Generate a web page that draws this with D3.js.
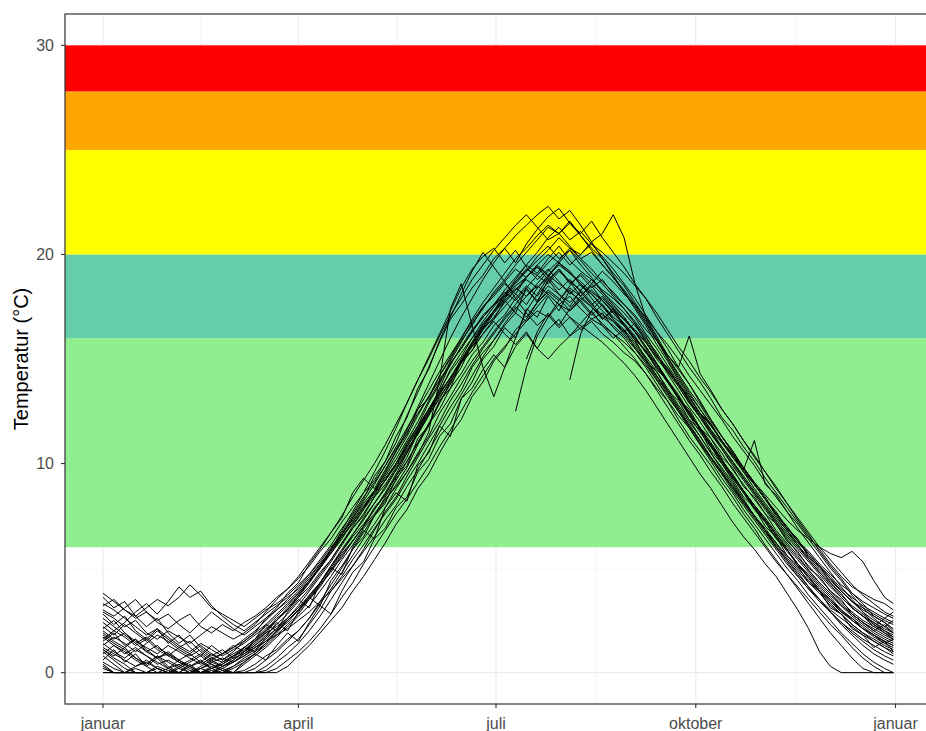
<!DOCTYPE html>
<html>
<head>
<meta charset="utf-8">
<script src="https://cdn.jsdelivr.net/npm/d3@7"></script>
<style>
  body { margin: 0; background: #fff; }
  text { font-family: "Liberation Sans", Arial, sans-serif; }
</style>
</head>
<body>
<div id="chart"></div>
<script>
// --- data -------------------------------------------------------------
const monthLabels = ["januar", "april", "juli", "oktober", "januar"];
const monthDates = ["2021-01-01", "2021-04-01", "2021-07-01", "2021-10-01", "2022-01-01"];
const yTicks = [0, 10, 20, 30];
const bandLimits = [6, 16, 20, 25, 27.8, 30];
const bandColors = ["#90EE90", "#66CDAA", "#FFFF00", "#FFA500", "#FF0000"];

// one value every 5 days from 1. januar, last one on 31. desember
const sampleDays = d3.range(0, 361, 5).concat([364]);

const sA = [3.2,3.5,3.0,2.6,2.9,2.4,2.1,2.5,2.8,2.2,1.9,2.3, 2.0,2.4,2.7,3.1,3.6,4.0,4.5,5.1,5.8,6.4,7.2,7.9,
  8.6,9.2,10.1,11.0,12.3,13.4,14.6,15.8,16.9,17.6,18.4,19.0, 19.8,20.3,19.6,20.5,21.2,21.8,22.2,21.5,21.0,21.6,20.8,20.1,
  19.4,18.6,17.9,17.0,16.2,15.4,14.6,13.9,13.1,12.2,11.6,10.8, 10.1,9.3,8.6,7.9,7.2,6.5,5.9,5.2,4.6,4.1,3.8,3.5, 3.3,3.0];
const sB = [0.8,0.4,0,0,0,0.2,0,0,0,0,0.1,0, 0,0,0,0.3,0.7,1.2,1.6,2.3,3.0,3.9,4.6,5.4,
  6.1,6.9,7.6,8.3,9.2,10.0,10.9,11.8,12.7,13.5,14.6,15.3, 15.9,16.6,17.2,16.8,17.5,18.1,17.6,18.0,17.4,16.9,17.2,16.5,
  16.0,15.3,14.6,13.8,13.0,12.1,11.3,10.6,9.9,9.1,8.4,7.6, 6.9,6.1,5.4,4.7,4.0,3.3,2.6,1.9,1.3,0.7,0.2,0, 0,0];
const sC = [1.9,1.5,1.2,1.6,1.0,0.7,0.9,0.5,0.3,0.6,0.2,0.4, 0.8,1.1,1.5,1.9,2.2,2.6,3.1,3.7,4.3,5.0,5.8,6.5,
  7.1,7.8,8.5,9.4,10.3,11.5,12.4,13.6,14.8,15.5,16.3,17.1, 17.6,18.3,18.9,19.5,19.1,19.8,20.4,19.7,19.2,18.8,18.3,17.9,
  17.4,16.8,16.1,15.2,14.3,13.5,12.7,12.0,11.2,10.5,9.7,9.0, 8.3,7.6,6.8,6.2,5.6,4.9,4.3,3.8,3.2,2.8,2.4,2.1, 1.8,1.6];
const sD = [1.2,0.9,0.6,0.3,0.5,0.2,0,0.3,0.6,0.9,0.5,0.7, 0.5,0.8,1.1,1.5,2.0,2.5,3.0,3.6,4.2,4.8,5.6,6.3,
  7.0,7.6,8.3,8.9,9.6,10.4,11.5,14.0,17.4,18.6,16.6,14.6, 13.2,14.6,16.0,17.3,18.1,18.9,19.6,19.2,18.5,18.1,17.6,17.0,
  16.6,15.9,15.0,14.2,13.5,12.7,12.0,11.3,10.5,9.8,9.1,8.3, 7.5,6.8,6.0,5.3,4.6,4.0,3.4,2.9,2.4,2.0,1.6,1.3, 1.0,0.8];
const sF = [2.4,2.0,1.7,1.3,1.6,1.1,0.8,1.2,1.5,1.0,0.6,0.9, 1.2,1.5,1.9,2.3,2.8,3.3,3.8,4.4,5.1,5.7,6.4,7.2,
  7.9,8.6,9.4,10.2,11.1,12.0,13.0,13.9,14.7,15.6,16.4,17.0, 17.6,18.0,18.7,19.3,19.0,19.6,20.1,19.5,20.0,20.6,21.0,21.9,
  20.8,18.6,17.0,16.1,15.2,14.5,13.8,13.0,12.1,11.3,10.6,9.8, 9.0,8.3,7.5,6.8,6.1,5.4,4.8,4.2,3.6,3.1,2.7,2.4, 2.1,1.9];
const sG = [3.8,3.4,3.0,2.7,3.1,3.5,3.2,3.6,4.2,3.7,3.1,2.8, 2.5,2.2,2.6,3.0,3.3,3.7,4.2,4.7,5.3,6.0,6.6,7.4,
  8.1,8.7,9.3,10.0,11.0,11.8,12.9,13.8,14.9,15.8,16.7,17.4, 18.2,18.8,19.5,20.1,20.7,21.3,21.0,21.5,20.9,20.3,19.8,19.1,
  18.5,17.7,16.9,16.0,15.1,14.3,13.5,12.8,12.0,11.3,10.5,9.8, 9.0,8.3,7.6,6.9,6.3,5.8,5.2,4.7,4.2,3.8,3.4,3.1, 2.8,2.6];
const sH = [0.3,0,0,0,0,0,0,0,0,0,0,0, 0,0,0,0,0.2,0.6,1.0,1.5,2.1,2.8,3.6,4.3,
  5.2,6.0,6.8,7.6,8.3,9.1,9.9,10.8,11.6,12.5,13.4,14.2, 15.0,15.6,16.2,16.8,17.3,17.0,17.6,17.3,17.9,17.5,17.0,16.6,
  16.1,15.5,14.8,14.0,13.2,12.5,11.7,10.9,10.1,9.3,8.6,7.8, 7.1,6.4,5.7,5.0,4.4,3.7,3.1,2.5,1.9,1.4,0.9,0.5, 0.2,0];
const sI = [1.0,0.6,0.2,0,0,0.3,0.1,0,0,0.2,0,0, 0.3,0.6,0.9,1.3,1.8,2.3,2.8,3.5,4.2,4.9,5.7,6.3,
  7.0,7.8,8.6,9.5,10.5,11.6,12.6,13.4,14.5,15.3,16.0,16.6, 17.2,17.9,18.4,18.0,18.5,18.1,17.6,17.0,16.6,16.2,15.8,15.3,
  14.8,14.2,13.5,12.7,11.9,11.1,10.3,9.5,8.8,8.0,7.2,6.5, 5.9,5.2,4.6,3.8,3.0,2.1,1.0,0.3,0,0,0,0, 0,0];
const sJ = [2.1,2.5,1.9,1.4,1.0,1.3,0.8,0.5,0.2,0,0.3,0.1, 0,0.4,0.8,1.2,1.7,2.2,2.7,3.2,3.9,4.6,5.4,6.1,
  6.9,7.5,8.2,9.0,9.8,10.9,11.8,12.9,13.8,14.6,15.7,16.5, 17.3,17.9,18.7,19.2,19.9,20.4,19.8,20.2,19.5,18.9,18.2,17.6,
  17.0,16.3,15.6,14.8,14.0,13.3,12.4,11.7,11.0,10.2,9.4,8.7, 7.9,7.3,6.6,5.9,5.2,4.7,4.1,3.6,3.0,2.6,2.2,1.8, 1.5,1.3];
const sK = [2.9,2.6,2.2,2.5,1.9,1.6,2.0,1.7,1.4,1.8,2.2,1.9, 1.6,1.9,2.3,2.9,3.5,4.0,4.6,5.3,6.0,6.7,7.5,8.4,
  9.2,10.0,10.9,11.9,12.9,14.0,15.0,16.1,17.1,17.9,18.8,19.5, 20.2,20.8,21.4,21.9,21.3,20.7,21.0,20.4,19.8,19.3,18.7,18.2,
  17.6,17.0,16.2,15.5,14.7,13.9,13.0,12.3,11.5,10.8,10.1,9.4, 8.7,8.0,7.3,6.7,6.1,5.5,4.9,4.4,3.9,3.4,3.1,2.8, 2.5,2.3];
const sL = [0.5,0.2,0,0,0,0,0.2,0.4,0.1,0,0,0, 0,0.1,0.4,0.8,1.1,1.6,2.0,2.6,3.3,4.0,4.8,5.6,
  6.4,7.1,7.9,8.8,9.6,10.5,11.3,12.4,13.2,14.1,14.9,15.6, 16.3,17.0,17.6,18.3,17.8,18.5,18.1,17.7,18.2,17.6,17.1,16.8,
  16.3,15.7,15.0,14.2,13.4,12.6,11.9,11.1,10.3,9.6,8.8,8.1, 7.4,6.7,6.0,5.4,4.7,4.1,3.5,2.9,2.4,1.9,1.5,1.1, 0.8,0.6];
const sM = [1.6,2.0,2.4,2.9,3.3,2.8,3.4,4.1,3.6,3.9,3.2,2.7, 2.3,2.0,2.4,2.8,3.2,3.6,4.0,4.6,5.2,5.9,6.6,7.3,
  8.0,8.6,9.2,10.0,10.8,11.7,12.6,13.5,14.4,15.1,16.0,16.8, 17.5,18.1,18.6,19.2,19.7,20.2,20.8,20.3,19.8,20.1,19.5,18.9,
  18.3,17.6,16.8,15.9,15.0,14.1,13.3,12.6,11.8,11.1,10.3,9.6, 8.8,8.1,7.4,6.8,6.2,5.7,5.1,4.6,4.0,3.6,3.2,2.9, 2.6,2.4];
const sN = [1.4,1.0,0.7,1.1,0.8,0.4,0.6,0.3,0,0.2,0.5,0.3, 0.6,1.0,1.4,1.9,2.5,3.0,3.6,4.3,5.1,5.9,6.8,7.7,
  8.6,9.6,10.6,11.7,12.9,14.0,15.1,16.2,17.3,18.4,19.3,19.9, 20.3,19.6,20.2,19.4,18.8,19.3,18.7,18.1,18.6,17.9,17.3,16.8,
  16.2,15.6,14.9,14.1,13.4,12.6,11.8,11.1,10.3,9.6,8.9,8.2, 7.5,6.9,6.2,5.6,5.0,4.4,3.9,3.4,2.9,2.5,2.1,1.8, 1.5,1.3];
const sO = [2.6,2.2,1.8,1.4,1.7,1.2,0.9,0.6,0.9,0.5,0.2,0.4, 0.7,0.9,1.2,1.5,1.8,2.1,2.5,2.9,3.4,3.9,4.5,5.1,
  5.8,6.5,7.3,8.0,8.9,9.7,10.6,11.5,12.4,13.3,14.2,15.1, 15.9,16.7,17.4,18.0,18.6,19.2,19.7,20.3,20.0,20.5,20.1,19.6,
  19.1,18.5,17.9,17.2,16.4,15.6,14.9,14.1,13.4,12.6,11.9,11.1, 10.4,9.6,8.9,8.1,7.4,6.7,6.0,5.4,4.8,4.2,3.7,3.3, 2.9,2.7];
const sP = [0.9,1.3,1.0,0.6,0.3,0,0,0.2,0,0,0,0.3, 0.5,0.8,1.2,1.6,2.1,2.6,3.2,3.9,4.6,5.3,6.1,6.9,
  7.6,8.4,9.2,10.0,10.9,11.8,12.6,13.4,14.1,14.9,15.6,16.2, 16.8,16.2,15.7,16.3,15.5,15.0,15.6,16.1,16.5,16.9,16.6,16.2,
  15.8,15.3,14.7,14.0,13.3,12.5,11.8,11.0,10.2,9.5,8.7,8.0, 7.3,6.6,5.9,5.2,4.6,4.0,3.5,3.0,2.6,2.2,1.8,1.5, 1.2,1.0];
const sQ = [3.3,3.0,2.6,2.2,1.8,2.1,1.7,1.3,1.0,1.4,1.1,0.8, 1.1,1.4,1.8,2.2,2.7,3.2,3.8,4.4,5.0,5.7,6.5,7.2,
  7.9,8.7,9.5,10.4,11.3,12.3,13.2,14.2,15.1,16.0,16.9,17.7, 18.4,19.1,19.8,20.3,20.9,21.4,21.0,21.6,20.9,20.2,19.5,18.9,
  18.2,17.5,16.7,15.9,15.1,14.2,13.4,12.6,11.9,11.1,10.4,9.7, 9.0,8.3,7.6,7.0,6.3,5.7,5.1,4.5,3.9,3.4,3.0,2.7, 2.4,2.1];
const sR = [1.1,0.7,0.4,0,0,0,0,0,0.3,0,0,0, 0,0,0.2,0.6,1.0,1.5,2.0,2.6,3.4,4.2,5.0,5.9,
  6.7,7.5,8.4,9.2,10.1,11.0,11.9,12.9,13.9,14.8,15.7,16.6, 17.3,18.0,18.5,18.9,19.4,19.0,19.5,19.1,18.6,18.1,17.5,16.9,
  16.4,15.8,15.1,14.4,13.6,12.8,12.1,11.3,10.5,9.7,9.0,8.2, 7.5,6.8,6.1,5.4,4.8,4.1,3.5,2.9,2.3,1.8,1.3,0.9, 0.6,0.4];
const sU = [2.0,1.6,1.9,1.5,1.2,0.9,1.3,1.0,0.7,0.4,0.7,0.5, 0.8,1.2,1.6,2.0,2.5,3.1,3.7,4.3,5.0,5.8,6.6,7.4,
  8.2,9.0,9.9,10.8,11.7,12.6,13.5,14.4,15.2,16.0,16.8,17.5, 18.1,18.7,19.3,18.9,19.5,20.0,19.6,19.1,18.7,18.2,17.8,17.3,
  16.9,16.4,15.8,15.1,14.5,13.8,13.1,12.4,11.8,11.1,10.4,9.8, 9.1,8.5,7.9,7.3,6.8,6.4,6.0,5.7,5.5,5.8,5.3,4.4, 3.6,3.3];
const sV = [0,0,0,0.2,0,0,0,0,0,0,0.2,0.5, 0.8,1.0,1.3,1.7,2.1,2.5,3.0,3.6,4.3,5.1,5.9,6.6,
  7.4,8.1,8.9,9.7,10.6,11.4,12.3,13.1,14.0,14.9,15.6,16.4, 17.0,17.7,18.3,18.8,18.4,19.0,18.6,18.2,17.8,18.3,17.8,17.2,
  16.6,16.0,15.3,14.6,13.9,13.2,12.4,11.7,10.9,10.2,9.4,8.7, 8.0,7.3,6.6,5.9,5.2,4.5,3.9,3.3,2.8,2.3,1.9,1.5, 1.2,0.9];
const sW = [1.8,1.4,1.1,0.7,0.4,0.8,0.5,0.2,0.5,0.8,0.4,0.2, 0.5,0.9,1.3,1.8,2.3,2.8,3.4,4.0,4.7,5.4,6.2,7.0,
  7.8,8.7,9.6,10.6,11.6,12.7,13.8,14.9,16.0,17.0,17.9,18.8, 19.6,20.3,20.9,21.4,21.9,22.3,21.7,22.1,21.4,20.6,19.8,19.0,
  18.2,17.4,16.6,15.7,14.9,14.0,13.2,12.4,11.6,10.8,10.1,9.3, 8.6,7.9,7.2,6.5,5.9,5.3,4.7,4.1,3.6,3.1,2.7,2.3, 2.0,1.8];
const sX = [1.3,1.7,1.4,1.0,1.4,1.8,1.5,1.1,0.8,1.1,0.7,0.9, 1.2,1.6,2.0,2.5,3.0,3.5,4.1,4.7,5.4,6.1,6.9,7.6,
  8.4,9.1,9.9,10.7,11.5,12.4,13.2,14.0,14.8,15.5,16.3,17.0, 17.6,18.2,17.8,18.4,19.0,18.6,19.2,18.7,18.3,18.8,18.2,17.7,
  17.2,16.6,15.9,15.2,14.4,13.7,12.9,12.2,11.4,10.7,9.9,9.2, 8.5,7.8,7.1,6.4,5.7,5.1,4.5,3.9,3.4,2.9,2.5,2.2, 1.9,1.7];
const sY = [0.6,1.1,0.5,0.9,0.3,0.7,0.2,0,0.4,0,0,0.2, 0,0.5,0.9,0.6,1.3,1.9,1.5,2.4,3.2,2.8,3.9,4.8,
  5.3,6.4,6.9,7.9,8.4,9.6,10.2,11.3,11.9,13.1,13.6,14.5, 15.2,14.6,15.6,16.2,15.5,16.4,16.9,16.1,16.7,17.3,16.6,16.0,
  16.4,15.5,14.9,14.4,13.5,13.0,12.1,11.6,10.6,10.0,9.2,8.4, 7.9,7.0,6.5,5.6,5.1,4.3,3.9,3.1,2.8,2.1,1.8,1.2, 1.5,1.0];
const sZ = [3.6,3.1,3.4,2.7,2.2,2.6,1.9,1.4,1.8,1.2,0.8,1.1, 0.7,1.2,1.0,1.7,2.4,2.0,2.9,3.6,3.2,4.4,5.1,5.9,
  6.5,7.5,8.1,9.3,9.9,11.2,11.8,13.0,13.6,14.9,15.4,16.5, 16.9,17.8,17.2,18.4,17.7,18.8,18.1,17.5,18.3,17.7,16.9,17.4,
  16.6,15.9,15.4,14.5,14.0,13.1,12.6,11.7,11.2,10.3,9.8,8.9, 8.4,7.6,7.1,6.3,5.8,5.0,4.6,3.9,3.5,2.8,2.4,2.0, 2.3,1.9];
const sAA = [1.5,1.9,1.3,1.6,1.1,0.7,1.0,0.6,0.3,0.5,0.9,0.6, 1.0,1.5,1.9,2.6,3.1,3.8,4.3,5.2,5.9,6.7,7.4,8.6,
  9.3,8.8,9.7,10.6,11.4,12.6,13.1,14.2,15.0,15.9,16.6,17.5, 18.0,18.6,18.1,18.9,19.4,18.8,19.3,18.7,18.0,18.5,17.8,17.2,
  16.7,16.1,15.3,14.8,13.9,13.2,12.3,11.7,10.8,10.1,9.3,8.6, 7.8,7.2,6.4,5.9,5.1,4.6,3.9,3.5,2.9,2.6,2.1,1.8, 1.4,1.6];
const sAB = [0.2,0,0,0.3,0.6,0.2,0,0,0,0.2,0.4,0.1, 0.3,0.7,1.0,1.4,2.0,2.4,3.0,3.5,4.1,4.9,5.5,6.3,
  7.0,7.9,8.5,9.4,10.1,11.0,11.9,12.6,13.6,14.3,15.2,15.8, 16.6,17.1,17.9,18.5,18.0,18.7,19.3,18.6,19.0,18.4,18.8,18.1,
  17.6,17.1,16.4,15.9,15.2,14.6,16.1,14.3,13.5,12.6,11.9,11.1, 10.3,9.6,8.8,8.1,7.3,6.6,5.8,5.1,4.5,3.8,3.3,2.7, 2.4,2.0];
const sAC = [2.2,1.8,2.3,1.9,1.5,2.0,1.6,1.2,0.9,1.3,0.9,0.6, 0.9,1.2,1.6,2.1,2.5,3.0,3.6,4.1,4.8,5.4,6.2,6.9,
  7.5,8.4,9.0,9.8,10.7,11.4,12.3,13.2,13.9,14.8,15.4,16.2, 16.9,17.5,18.1,17.6,18.4,18.9,18.3,18.8,18.2,17.6,18.0,17.4,
  16.9,16.3,15.8,15.0,14.4,13.7,12.9,12.4,11.6,11.0,10.3,9.7, 11.1,9.0,8.5,7.7,7.1,6.4,5.7,5.0,4.4,3.7,3.1,2.6, 2.2,2.5];
const sAD = [0,0,0,0,0,0,0,0,0,0,0,0, 0,0,0,0,0,0.3,0.8,1.3,1.9,2.5,3.1,3.9,
  4.6,5.4,6.2,7.1,7.8,8.8,9.5,10.5,11.4,12.1,13.2,13.9, 14.9,15.5,16.4,16.9,17.7,18.2,17.8,18.5,19.1,18.6,19.2,18.7,
  18.1,17.6,17.0,16.3,15.7,15.0,14.2,13.5,12.8,12.1,11.3,10.6, 9.9,9.1,8.4,7.7,6.9,6.2,5.5,4.8,4.1,3.5,2.9,2.3, 1.9,1.6];
const sAE = [1.1,0.8,1.2,0.7,0.4,0.8,0.3,0,0,0.3,0.6,0.3, 0.6,1.0,1.5,2.0,2.6,3.0,3.7,4.4,5.0,5.9,6.7,7.5,
  8.3,9.4,10.1,11.3,12.2,13.6,14.5,15.9,17.0,18.1,19.2,20.1, 19.4,18.7,17.9,17.2,16.6,17.1,16.5,17.0,16.4,16.8,16.2,15.8,
  15.3,14.9,14.3,13.6,13.0,12.3,11.7,10.9,10.3,9.5,8.9,8.1, 7.5,6.8,6.2,5.5,4.9,4.3,3.8,3.2,2.8,2.3,1.9,1.6, 1.3,1.1];
const sAF = [2.8,2.3,2.7,2.0,1.6,2.1,1.4,1.8,1.2,0.8,1.3,0.9, 1.3,1.0,1.6,2.3,2.0,2.9,3.5,3.1,4.3,5.0,4.7,6.0,
  6.8,6.4,7.9,8.6,8.2,9.9,10.5,11.8,11.3,13.1,13.9,15.0, 15.6,16.5,16.0,17.4,17.0,18.0,17.3,18.3,17.7,17.1,17.6,16.9,
  16.3,16.7,15.8,15.1,14.6,13.8,13.2,12.4,11.9,11.0,10.5,9.6, 9.0,8.3,7.7,6.9,6.4,5.5,5.1,4.3,3.8,3.1,2.7,2.2, 2.6,2.9];
const sAG = [0.4,0,0,0,0,0,0,0,0,0,0,0, 0,0,0,0.1,0.5,0.9,1.4,2.0,2.7,3.5,4.3,5.1,
  5.9,6.8,7.7,8.4,9.4,10.3,11.2,12.0,13.0,13.8,14.7,15.5, 16.2,16.9,17.5,17.0,17.7,18.3,17.9,17.3,17.8,17.2,16.7,16.2,
  15.6,15.0,14.3,13.5,12.7,11.9,11.1,10.4,9.6,8.9,8.1,7.4, 6.7,6.0,5.3,4.7,4.1,3.5,2.9,2.3,1.8,1.2,0.7,0.3, 0,0];
const sAH = [1.7,1.3,0.9,1.2,0.8,0.5,0.2,0.6,0.3,0,0.2,0, 0.2,0.5,0.9,1.4,1.9,2.5,3.0,3.7,4.3,5.1,5.8,6.6,
  7.3,8.1,8.8,9.7,10.5,11.5,12.4,13.3,14.1,15.0,15.8,16.7, 17.3,18.1,18.8,19.5,20.1,20.8,21.3,20.7,21.1,20.5,19.9,19.3,
  18.6,17.9,17.1,16.3,15.5,14.6,13.8,12.9,12.1,11.3,10.6,9.8, 9.1,8.4,7.6,6.9,6.3,5.6,5.0,4.5,3.9,3.4,2.9,2.5, 2.2,1.9];
const sAJ = [3.0,2.7,3.1,3.5,2.9,2.5,2.8,2.3,1.9,2.4,2.9,2.5, 2.1,1.8,2.2,2.6,3.0,3.4,3.9,4.5,5.2,5.8,6.5,7.1,
  7.8,8.5,9.2,9.9,10.8,11.6,12.5,13.3,14.1,14.9,15.8,16.4, 17.2,17.8,18.3,18.9,19.5,19.0,19.6,20.2,19.7,19.1,18.6,18.0,
  17.4,16.7,16.0,15.3,14.5,13.8,13.0,12.2,11.5,10.7,10.0,9.3, 8.6,7.9,7.2,6.6,6.0,5.4,4.8,4.3,3.7,3.2,2.8,2.4, 2.0,1.7];
// years whose logger only starts in summer
const sS = Array(38).fill(null).concat([12.5,14.6,16.1,17.0,17.8,18.4,18.0,18.6,18.1,17.5,
  17.0,16.3,15.6,14.8,14.0,13.2,12.4,11.7,10.9,10.2,9.4,8.7, 8.0,7.3,6.6,6.0,5.4,4.8,4.2,3.7,3.2,2.7,2.3,1.9, 1.6,1.4]);
const sT = Array(43).fill(null).concat([14.0,16.2,17.3,17.9,17.4,
  16.9,16.3,15.5,14.7,13.9,13.1,12.3,11.5,10.8,10.0,9.3,8.6, 7.9,7.2,6.5,5.8,5.2,4.6,4.0,3.5,3.0,2.5,2.1,1.7, 1.4,1.2]);
const sAI = Array(39).fill(null).concat([15.0,16.3,17.2,16.6,17.4,18.0,17.5,16.9,17.3,
  16.7,16.0,15.4,14.6,13.9,13.1,12.5,11.6,10.9,10.1,9.5,8.7, 8.0,7.4,6.7,6.1,5.5,4.9,4.3,3.8,3.3,2.8,2.4,2.0, 1.7,1.5]);

const seriesList = [sA, sB, sC, sD, sF, sG, sH, sI, sJ, sK, sL, sM, sN, sO, sP, sQ, sR, sU, sV, sW, sX,
  sY, sZ, sAA, sAB, sAC, sAD, sAE, sAF, sAG, sAH, sAJ, sS, sT, sAI];

// --- chart ------------------------------------------------------------
const width = 926, height = 731;
const panel = { left: 65, top: 14, right: 934, bottom: 704 };

const svg = d3.select("#chart").append("svg")
  .attr("width", width)
  .attr("height", height);

const start = new Date(Date.UTC(2021, 0, 1));
const x = d3.scaleUtc()
  .domain([start, new Date(Date.UTC(2022, 0, 1))])
  .range([103, 895.5]);
const y = d3.scaleLinear()
  .domain([-1.5, 31.5])
  .range([panel.bottom, panel.top]);

const dayDate = d => d3.utcDay.offset(start, d);
const tickDates = monthDates.map(d => new Date(d + "T00:00:00Z"));

// grid
const grid = svg.append("g");
const minorX = d3.pairs(tickDates).map(p => new Date((+p[0] + +p[1]) / 2));
grid.selectAll(".minx").data(minorX).enter().append("line")
  .attr("x1", d => x(d)).attr("x2", d => x(d))
  .attr("y1", panel.top).attr("y2", panel.bottom)
  .attr("stroke", "#EBEBEB").attr("stroke-width", 0.55);
grid.selectAll(".miny").data(d3.pairs(yTicks).map(p => (p[0] + p[1]) / 2)).enter().append("line")
  .attr("x1", panel.left).attr("x2", panel.right)
  .attr("y1", d => y(d)).attr("y2", d => y(d))
  .attr("stroke", "#EBEBEB").attr("stroke-width", 0.55);
grid.selectAll(".majx").data(tickDates).enter().append("line")
  .attr("x1", d => x(d)).attr("x2", d => x(d))
  .attr("y1", panel.top).attr("y2", panel.bottom)
  .attr("stroke", "#EBEBEB").attr("stroke-width", 1.1);
grid.selectAll(".majy").data(yTicks).enter().append("line")
  .attr("x1", panel.left).attr("x2", panel.right)
  .attr("y1", d => y(d)).attr("y2", d => y(d))
  .attr("stroke", "#EBEBEB").attr("stroke-width", 1.1);

// coloured bands
const bands = d3.pairs(bandLimits).map((p, i) => ({ lo: p[0], hi: p[1], color: bandColors[i] }));
svg.append("g").selectAll("rect").data(bands).enter().append("rect")
  .attr("x", panel.left)
  .attr("width", panel.right - panel.left)
  .attr("y", d => y(d.hi))
  .attr("height", d => y(d.lo) - y(d.hi))
  .attr("fill", d => d.color);

// temperature lines
const line = d3.line()
  .defined(d => d.v != null)
  .x(d => x(dayDate(d.day)))
  .y(d => y(d.v));
svg.append("g").selectAll("path").data(seriesList).enter().append("path")
  .attr("d", s => line(s.map((v, i) => ({ day: sampleDays[i], v: v }))))
  .attr("fill", "none")
  .attr("stroke", "#000")
  .attr("stroke-width", 1)
  .attr("stroke-linejoin", "round");

// panel border
svg.append("rect")
  .attr("x", panel.left).attr("y", panel.top)
  .attr("width", panel.right - panel.left)
  .attr("height", panel.bottom - panel.top)
  .attr("fill", "none").attr("stroke", "#333").attr("stroke-width", 1.2);

// axes
const yAxis = svg.append("g");
yAxis.selectAll("line").data(yTicks).enter().append("line")
  .attr("x1", panel.left - 4).attr("x2", panel.left)
  .attr("y1", d => y(d)).attr("y2", d => y(d))
  .attr("stroke", "#333").attr("stroke-width", 1.1);
yAxis.selectAll("text").data(yTicks).enter().append("text")
  .attr("x", panel.left - 11).attr("y", d => y(d))
  .attr("dy", "0.36em").attr("text-anchor", "end")
  .attr("font-size", 16).attr("fill", "#4D4D4D")
  .text(d => d);

const xAxis = svg.append("g");
xAxis.selectAll("line").data(tickDates).enter().append("line")
  .attr("x1", d => x(d)).attr("x2", d => x(d))
  .attr("y1", panel.bottom).attr("y2", panel.bottom + 4)
  .attr("stroke", "#333").attr("stroke-width", 1.1);
xAxis.selectAll("text").data(tickDates).enter().append("text")
  .attr("x", d => x(d)).attr("y", 729)
  .attr("text-anchor", "middle")
  .attr("font-size", 16).attr("fill", "#4D4D4D")
  .text((d, i) => monthLabels[i]);

svg.append("text")
  .attr("transform", `translate(28,${(panel.top + panel.bottom) / 2}) rotate(-90)`)
  .attr("text-anchor", "middle")
  .attr("font-size", 20).attr("fill", "#000")
  .text("Temperatur (°C)");
</script>
</body>
</html>
